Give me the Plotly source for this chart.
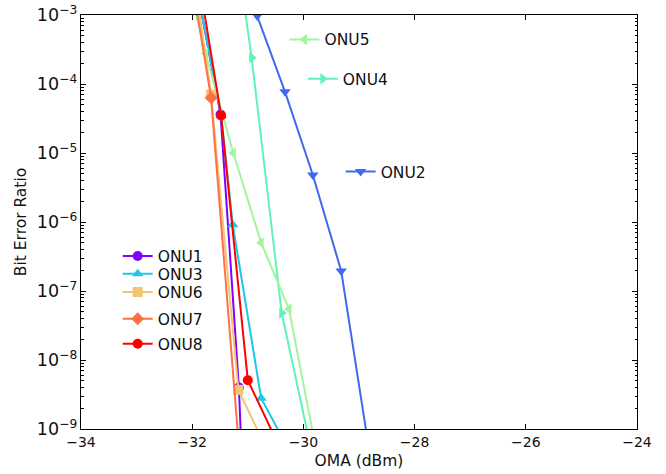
import plotly.graph_objects as go

# ---- data ----
onu1_x = [-31.85, -31.49, -31.16, -31.08]
onu1_y = [1.3e-3, 3.6e-5, 4.0e-9, 1.0e-10]

onu2_x = [-31.33, -30.83, -30.33, -29.83, -29.32, -28.82]
onu2_y = [1.2e-2, 9.7e-4, 7.7e-5, 4.8e-6, 1.95e-7, 5.1e-10]

onu3_x = [-31.85, -31.48, -31.27, -30.76, -30.30]
onu3_y = [1.3e-3, 3.5e-5, 9.1e-7, 2.8e-9, 5.7e-10]

onu4_x = [-31.07, -30.93, -30.39, -29.80]
onu4_y = [1.5e-3, 2.4e-4, 4.8e-8, 3.0e-10]

onu5_x = [-31.95, -31.76, -31.26, -30.76, -30.26, -29.76]
onu5_y = [1.2e-3, 2.8e-4, 1.0e-5, 5.0e-7, 5.5e-8, 4.5e-10]

onu6_x = [-31.88, -31.66, -31.17, -30.78]
onu6_y = [1.2e-3, 7.0e-5, 3.7e-9, 8.1e-10]

onu7_x = [-31.92, -31.66, -31.17]
onu7_y = [1.2e-3, 6.3e-5, 7.0e-10]

onu8_x = [-31.81, -31.48, -31.00, -30.50]
onu8_y = [1.5e-3, 3.5e-5, 5.1e-9, 7.2e-10]

x_ticks = [-34, -32, -30, -28, -26, -24]

series = [
    ("ONU1", onu1_x, onu1_y, "#8000ff", "circle", "legend"),
    ("ONU2", onu2_x, onu2_y, "#4169ee", "triangle-down", "legend4"),
    ("ONU3", onu3_x, onu3_y, "#1ec8e4", "triangle-up", "legend7"),
    ("ONU4", onu4_x, onu4_y, "#5ff3b8", "triangle-right", "legend3"),
    ("ONU5", onu5_x, onu5_y, "#a2f59c", "triangle-left", "legend2"),
    ("ONU6", onu6_x, onu6_y, "#f0c674", "square", "legend8"),
    ("ONU7", onu7_x, onu7_y, "#ff7043", "diamond", "legend5"),
    ("ONU8", onu8_x, onu8_y, "#ff0000", "circle", "legend6"),
]

fig = go.Figure()
for name, xs, ys, col, sym, leg in series:
    fig.add_trace(go.Scatter(
        x=xs, y=ys, name=name, mode="lines+markers",
        line=dict(color=col, width=2),
        marker=dict(color=col, symbol=sym, size=10, line=dict(width=0)),
        legend=leg, showlegend=True,
    ))

font = dict(family="DejaVu Sans", size=14, color="#111111")
font_big = dict(family="DejaVu Sans", size=15.5, color="#111111")
leg_common = dict(font=font_big, bgcolor="rgba(0,0,0,0)", borderwidth=0,
                  itemwidth=30, xanchor="left", yanchor="middle",
                  tracegroupgap=0, visible=True)

fig.update_layout(
    width=666, height=474,
    margin=dict(l=81, r=29, t=15, b=45),
    paper_bgcolor="white", plot_bgcolor="white",
    font=font, showlegend=True,
    legend=dict(x=0.066, y=0.417, **leg_common),
    legend7=dict(x=0.066, y=0.374, **leg_common),
    legend8=dict(x=0.066, y=0.330, **leg_common),
    legend5=dict(x=0.066, y=0.265, **leg_common),
    legend6=dict(x=0.066, y=0.205, **leg_common),
    legend2=dict(x=0.366, y=0.940, **leg_common),
    legend3=dict(x=0.399, y=0.845, **leg_common),
    legend4=dict(x=0.467, y=0.621, **leg_common),
    xaxis=dict(
        range=[-34, -24], tickvals=x_ticks,
        ticktext=["\u2212" + str(abs(v)) for v in x_ticks],
        ticks="inside", ticklen=5, tickcolor="black",
        showline=True, linecolor="black", linewidth=1, mirror="ticks",
        showgrid=False, zeroline=False, automargin=False,
        tickfont=font,
        title=dict(text="OMA (dBm)", font=font_big, standoff=6),
    ),
    yaxis=dict(
        type="log", range=[-9, -3], dtick=1, exponentformat="power",
        ticks="inside", ticklen=5, tickcolor="black",
        minor=dict(ticks="inside", ticklen=2.5, dtick="D1", tickcolor="black", showgrid=False),
        showline=True, linecolor="black", linewidth=1, mirror="ticks",
        showgrid=False, zeroline=False, automargin=False,
        tickfont=font,
        title=dict(text="Bit Error Ratio", font=font_big, standoff=6),
    ),
)

fig.write_html("out.html")
